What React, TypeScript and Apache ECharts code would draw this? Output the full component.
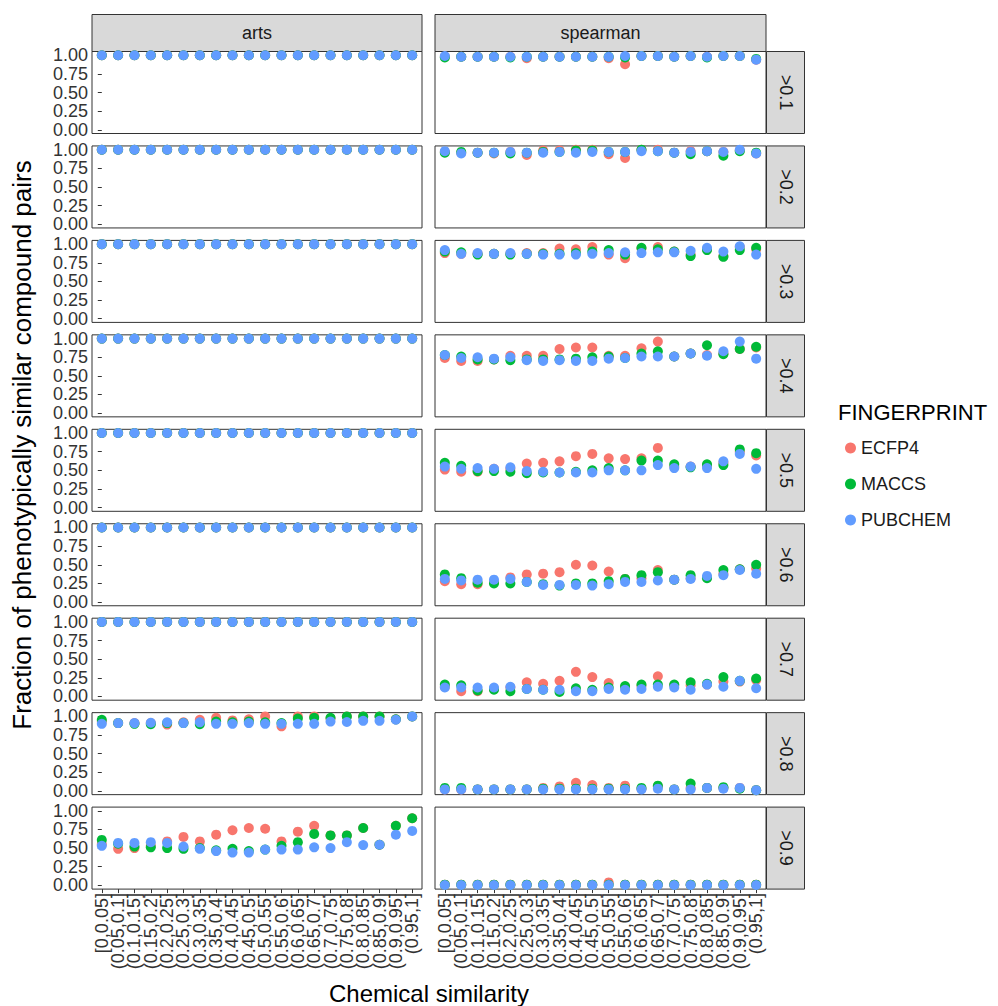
import React, { useEffect, useRef } from "react";
import * as echarts from "echarts";

const CATEGORIES = [
  "[0,0.05]", "(0.05,0.1]", "(0.1,0.15]", "(0.15,0.2]", "(0.2,0.25]",
  "(0.25,0.3]", "(0.3,0.35]", "(0.35,0.4]", "(0.4,0.45]", "(0.45,0.5]",
  "(0.5,0.55]", "(0.55,0.6]", "(0.6,0.65]", "(0.65,0.7]", "(0.7,0.75]",
  "(0.75,0.8]", "(0.8,0.85]", "(0.85,0.9]", "(0.9,0.95]", "(0.95,1]",
];
const METHODS = ["arts", "spearman"];
const THRESHOLDS = [">0.1", ">0.2", ">0.3", ">0.4", ">0.5", ">0.6", ">0.7", ">0.8", ">0.9"];
const FINGERPRINTS = ["ECFP4", "MACCS", "PUBCHEM"];
const FP_COLORS = ["#F8766D", "#00BA38", "#619CFF"];
const Y_TICKS = [0, 0.25, 0.5, 0.75, 1];

// arts, one row per threshold
const ARTS_ECFP4 = [
  [1, 1, 1, 1, 1, 1, 1, 1, 1, 1, 1, 1, 1, 1, 1, 1, 1, 1, 1, 1],
  [1, 1, 1, 1, 1, 1, 1, 1, 1, 1, 1, 1, 1, 1, 1, 1, 1, 1, 1, 1],
  [1, 1, 1, 1, 1, 1, 1, 1, 1, 1, 1, 1, 1, 1, 1, 1, 1, 1, 1, 1],
  [1, 1, 1, 1, 1, 1, 1, 1, 1, 1, 1, 1, 1, 1, 1, 1, 1, 1, 1, 1],
  [1, 1, 1, 1, 1, 1, 1, 1, 1, 1, 1, 1, 1, 1, 1, 1, 1, 1, 1, 1],
  [1, 1, 1, 1, 1, 1, 1, 1, 1, 1, 1, 1, 1, 1, 1, 1, 1, 1, 1, 1],
  [1, 1, 1, 1, 1, 1, 1, 1, 1, 1, 1, 1, 1, 1, 1, 1, 1, 1, 1, 1],
  [0.93, 0.91, 0.91, 0.91, 0.89, 0.92, 0.955, 0.98, 0.946, 0.96, 1.0, 0.866, 1.0, 1.0, 0.97, 1.0, 1.0, 1.0, 0.96, 1.0],
  [0.55, 0.49, 0.5, 0.53, 0.59, 0.65, 0.59, 0.68, 0.74, 0.77, 0.76, 0.59, 0.72, 0.8, 0.67, 0.67, 0.77, 0.545, 0.8, 0.9],
];
const ARTS_MACCS = [
  [1, 1, 1, 1, 1, 1, 1, 1, 1, 1, 1, 1, 1, 1, 1, 1, 1, 1, 1, 1],
  [1, 1, 1, 1, 1, 1, 1, 1, 1, 1, 1, 1, 1, 1, 1, 1, 1, 1, 1, 1],
  [1, 1, 1, 1, 1, 1, 1, 1, 1, 1, 1, 1, 1, 1, 1, 1, 1, 1, 1, 1],
  [1, 1, 1, 1, 1, 1, 1, 1, 1, 1, 1, 1, 1, 1, 1, 1, 1, 1, 1, 1],
  [1, 1, 1, 1, 1, 1, 1, 1, 1, 1, 1, 1, 1, 1, 1, 1, 1, 1, 1, 1],
  [1, 1, 1, 1, 1, 1, 1, 1, 1, 1, 1, 1, 1, 1, 1, 1, 1, 1, 1, 1],
  [1, 1, 1, 1, 1, 1, 1, 1, 1, 1, 1, 1, 1, 1, 1, 1, 1, 1, 1, 1],
  [0.955, 0.91, 0.9, 0.895, 0.91, 0.91, 0.895, 0.93, 0.92, 0.93, 0.92, 0.91, 0.97, 0.98, 0.98, 1.0, 1.0, 1.0, 0.96, 1.0],
  [0.61, 0.56, 0.52, 0.51, 0.5, 0.49, 0.5, 0.47, 0.49, 0.46, 0.48, 0.53, 0.58, 0.69, 0.67, 0.67, 0.77, 0.545, 0.8, 0.9],
];
const ARTS_PUBCHEM = [
  [1, 1, 1, 1, 1, 1, 1, 1, 1, 1, 1, 1, 1, 1, 1, 1, 1, 1, 1, 1],
  [1, 1, 1, 1, 1, 1, 1, 1, 1, 1, 1, 1, 1, 1, 1, 1, 1, 1, 1, 1],
  [1, 1, 1, 1, 1, 1, 1, 1, 1, 1, 1, 1, 1, 1, 1, 1, 1, 1, 1, 1],
  [1, 1, 1, 1, 1, 1, 1, 1, 1, 1, 1, 1, 1, 1, 1, 1, 1, 1, 1, 1],
  [1, 1, 1, 1, 1, 1, 1, 1, 1, 1, 1, 1, 1, 1, 1, 1, 1, 1, 1, 1],
  [1, 1, 1, 1, 1, 1, 1, 1, 1, 1, 1, 1, 1, 1, 1, 1, 1, 1, 1, 1],
  [1, 1, 1, 1, 1, 1, 1, 1, 1, 1, 1, 1, 1, 1, 1, 1, 1, 1, 1, 1],
  [0.9, 0.91, 0.91, 0.915, 0.92, 0.91, 0.92, 0.9, 0.9, 0.91, 0.9, 0.9, 0.9, 0.9, 0.93, 0.925, 0.94, 0.94, 0.955, 1.0],
  [0.53, 0.57, 0.57, 0.58, 0.57, 0.52, 0.49, 0.46, 0.44, 0.44, 0.48, 0.48, 0.48, 0.51, 0.5, 0.58, 0.54, 0.545, 0.68, 0.73],
];

// spearman, one row per threshold
const SPEARMAN_ECFP4 = [
  [0.98, 0.98, 0.98, 0.98, 0.98, 0.96, 0.98, 0.98, 0.98, 0.98, 0.96, 0.88, 0.99, 0.99, 0.98, 0.99, 0.98, 0.99, 0.99, 0.94],
  [0.97, 0.96, 0.96, 0.95, 0.97, 0.93, 0.99, 0.99, 1.0, 1.0, 0.94, 0.89, 1.0, 1.0, 0.96, 0.98, 0.98, 0.97, 0.99, 0.95],
  [0.88, 0.87, 0.87, 0.87, 0.87, 0.88, 0.88, 0.94, 0.93, 0.96, 0.86, 0.81, 0.94, 0.96, 0.9, 0.86, 0.93, 0.84, 0.96, 0.93],
  [0.74, 0.7, 0.7, 0.72, 0.77, 0.77, 0.77, 0.86, 0.88, 0.88, 0.77, 0.77, 0.87, 0.96, 0.76, 0.8, 0.78, 0.8, 0.86, 0.88],
  [0.51, 0.48, 0.48, 0.52, 0.52, 0.59, 0.6, 0.62, 0.69, 0.72, 0.66, 0.65, 0.66, 0.8, 0.55, 0.55, 0.56, 0.6, 0.75, 0.7],
  [0.28, 0.24, 0.24, 0.27, 0.33, 0.37, 0.38, 0.4, 0.5, 0.49, 0.41, 0.31, 0.32, 0.43, 0.3, 0.32, 0.33, 0.38, 0.44, 0.45],
  [0.13, 0.07, 0.07, 0.1, 0.12, 0.19, 0.17, 0.21, 0.33, 0.26, 0.18, 0.12, 0.14, 0.27, 0.15, 0.15, 0.16, 0.2, 0.2, 0.22],
  [0.02, 0.02, 0.02, 0.02, 0.02, 0.02, 0.04, 0.06, 0.11, 0.08, 0.04, 0.07, 0.03, 0.06, 0.02, 0.04, 0.04, 0.04, 0.04, 0.01],
  [0.01, 0.01, 0.01, 0.01, 0.01, 0.01, 0.01, 0.01, 0.01, 0.01, 0.04, 0.01, 0.01, 0.01, 0.01, 0.01, 0.01, 0.01, 0.01, 0.01],
];
const SPEARMAN_MACCS = [
  [0.97, 0.98, 0.98, 0.98, 0.97, 0.98, 0.98, 0.98, 0.98, 0.98, 0.98, 0.97, 0.99, 0.99, 0.98, 0.99, 0.97, 0.99, 0.99, 0.95],
  [0.96, 0.97, 0.96, 0.96, 0.95, 0.96, 0.97, 0.97, 0.99, 0.99, 0.97, 0.97, 1.0, 0.98, 0.96, 0.94, 0.98, 0.92, 0.98, 0.96],
  [0.9, 0.89, 0.86, 0.87, 0.86, 0.87, 0.87, 0.87, 0.88, 0.9, 0.92, 0.86, 0.95, 0.93, 0.9, 0.84, 0.92, 0.83, 0.92, 0.95],
  [0.78, 0.76, 0.72, 0.72, 0.71, 0.72, 0.72, 0.72, 0.73, 0.75, 0.76, 0.74, 0.8, 0.83, 0.76, 0.8, 0.91, 0.79, 0.86, 0.89],
  [0.6, 0.56, 0.49, 0.49, 0.48, 0.46, 0.47, 0.47, 0.48, 0.5, 0.53, 0.5, 0.63, 0.63, 0.58, 0.54, 0.58, 0.57, 0.78, 0.73],
  [0.37, 0.32, 0.26, 0.25, 0.25, 0.27, 0.24, 0.22, 0.25, 0.25, 0.28, 0.31, 0.36, 0.4, 0.3, 0.36, 0.32, 0.43, 0.44, 0.5],
  [0.16, 0.15, 0.08, 0.09, 0.07, 0.1, 0.09, 0.06, 0.11, 0.09, 0.12, 0.14, 0.16, 0.16, 0.16, 0.19, 0.17, 0.26, 0.21, 0.24],
  [0.04, 0.04, 0.02, 0.02, 0.02, 0.02, 0.03, 0.03, 0.03, 0.03, 0.03, 0.03, 0.04, 0.07, 0.02, 0.1, 0.04, 0.05, 0.03, 0.01],
  [0.01, 0.01, 0.01, 0.01, 0.01, 0.01, 0.01, 0.01, 0.01, 0.01, 0.01, 0.01, 0.01, 0.01, 0.01, 0.01, 0.01, 0.01, 0.01, 0.01],
];
const SPEARMAN_PUBCHEM = [
  [0.99, 0.98, 0.98, 0.98, 0.98, 0.98, 0.98, 0.98, 0.98, 0.98, 0.98, 0.99, 0.99, 0.99, 0.98, 0.99, 0.98, 0.99, 0.99, 0.94],
  [0.98, 0.95, 0.96, 0.96, 0.97, 0.96, 0.96, 0.97, 0.96, 0.97, 0.97, 0.97, 0.98, 0.98, 0.96, 0.97, 0.98, 0.97, 1.0, 0.95],
  [0.92, 0.87, 0.88, 0.87, 0.88, 0.87, 0.86, 0.86, 0.86, 0.87, 0.88, 0.89, 0.88, 0.89, 0.89, 0.91, 0.95, 0.9, 0.97, 0.86],
  [0.78, 0.74, 0.75, 0.73, 0.75, 0.71, 0.7, 0.71, 0.7, 0.7, 0.73, 0.74, 0.76, 0.76, 0.76, 0.8, 0.77, 0.83, 0.96, 0.73],
  [0.55, 0.52, 0.53, 0.52, 0.54, 0.49, 0.48, 0.47, 0.47, 0.47, 0.5, 0.5, 0.5, 0.57, 0.53, 0.55, 0.53, 0.62, 0.72, 0.52],
  [0.31, 0.29, 0.3, 0.3, 0.31, 0.27, 0.23, 0.23, 0.23, 0.22, 0.24, 0.27, 0.27, 0.29, 0.3, 0.31, 0.35, 0.36, 0.43, 0.38],
  [0.12, 0.12, 0.12, 0.12, 0.13, 0.1, 0.09, 0.09, 0.07, 0.07, 0.1, 0.09, 0.1, 0.13, 0.12, 0.09, 0.16, 0.13, 0.21, 0.11],
  [0.02, 0.02, 0.02, 0.02, 0.02, 0.02, 0.02, 0.02, 0.02, 0.02, 0.02, 0.02, 0.02, 0.03, 0.02, 0.02, 0.04, 0.03, 0.04, 0.01],
  [0.005, 0.005, 0.005, 0.005, 0.005, 0.005, 0.005, 0.005, 0.005, 0.005, 0.005, 0.005, 0.005, 0.005, 0.005, 0.005, 0.005, 0.005, 0.005, 0.005],
];

const FONT = "Liberation Sans, Arial, Helvetica, sans-serif";

function buildOption() {
  const byMethod = [
    [ARTS_ECFP4, ARTS_MACCS, ARTS_PUBCHEM],
    [SPEARMAN_ECFP4, SPEARMAN_MACCS, SPEARMAN_PUBCHEM],
  ];
  const colLeft = [92, 435];
  const colWidth = [330, 331];
  const rowTop = (r: number) => 51.5 + r * 94.45;
  const panelH = 82;
  const nRows = THRESHOLDS.length;
  const nCat = CATEGORIES.length;
  const span = nCat - 1 + 1.2; // discrete range with 0.6 expansion each side

  const grids: any[] = [];
  const xAxes: any[] = [];
  const yAxes: any[] = [];
  const series: any[] = [];
  const graphics: any[] = [];

  for (let r = 0; r < nRows; r++) {
    for (let c = 0; c < METHODS.length; c++) {
      const g = grids.length;
      grids.push({
        left: colLeft[c],
        top: rowTop(r),
        width: colWidth[c],
        height: panelH,
        show: true,
        borderColor: "#333333",
        borderWidth: 1,
        backgroundColor: "#FFFFFF",
        containLabel: false,
      });
      xAxes.push({
        type: "value",
        gridIndex: g,
        min: -0.6,
        max: nCat - 1 + 0.6,
        axisLine: { show: false },
        splitLine: { show: false },
        axisTick: { show: false },
        axisLabel: { show: false },
      });
      yAxes.push({
        type: "value",
        gridIndex: g,
        min: -0.05,
        max: 1.05,
        axisLine: { show: false },
        splitLine: { show: false },
        axisTick: {
          show: c === 0,
          customValues: Y_TICKS,
          length: 4,
          lineStyle: { color: "#333333", width: 1 },
        },
        axisLabel: {
          show: c === 0,
          customValues: Y_TICKS,
          margin: 4,
          fontSize: 18,
          fontFamily: FONT,
          color: "#333333",
          showMinLabel: true,
          showMaxLabel: true,
          hideOverlap: false,
          formatter: (v: number) => v.toFixed(2),
        },
      });
      FINGERPRINTS.forEach((fp, k) => {
        series.push({
          type: "scatter",
          name: fp,
          xAxisIndex: g,
          yAxisIndex: g,
          symbol: "circle",
          symbolSize: 10,
          itemStyle: { color: FP_COLORS[k], opacity: 1 },
          emphasis: { disabled: true },
          data: byMethod[c][k][r].map((v, i) => [i, v]),
        });
      });
    }
    // right strip
    graphics.push({
      type: "rect",
      shape: { x: 766.5, y: rowTop(r), width: 38, height: panelH },
      style: { fill: "#D9D9D9", stroke: "#333333", lineWidth: 1 },
    });
    graphics.push({
      type: "text",
      x: 786,
      y: rowTop(r) + panelH / 2,
      rotation: -Math.PI / 2,
      style: {
        text: THRESHOLDS[r],
        fontSize: 18,
        fontFamily: FONT,
        fill: "#1A1A1A",
        align: "center",
        verticalAlign: "middle",
      },
    });
  }

  // category label axes under the bottom row, aligned with the discrete positions
  METHODS.forEach((_, c) => {
    const unit = colWidth[c] / span;
    const g = grids.length;
    grids.push({
      left: colLeft[c] + 0.1 * unit,
      top: rowTop(nRows - 1),
      width: unit * nCat,
      height: panelH,
      show: false,
      containLabel: false,
    });
    xAxes.push({
      type: "category",
      gridIndex: g,
      data: CATEGORIES,
      boundaryGap: true,
      axisLine: { show: false },
      splitLine: { show: false },
      axisTick: {
        show: true,
        alignWithLabel: true,
        interval: 0,
        length: 4,
        lineStyle: { color: "#333333", width: 1 },
      },
      axisLabel: {
        interval: 0,
        rotate: 90,
        margin: 4,
        fontSize: 18,
        fontFamily: FONT,
        color: "#333333",
      },
    });
    yAxes.push({ type: "value", gridIndex: g, show: false, min: 0, max: 1 });
  });

  // top strips
  METHODS.forEach((m, c) => {
    graphics.push({
      type: "rect",
      shape: { x: colLeft[c], y: 14.5, width: colWidth[c], height: 37 },
      style: { fill: "#D9D9D9", stroke: "#333333", lineWidth: 1 },
    });
    graphics.push({
      type: "text",
      x: colLeft[c] + colWidth[c] / 2,
      y: 33,
      style: {
        text: m,
        fontSize: 18,
        fontFamily: FONT,
        fill: "#1A1A1A",
        align: "center",
        verticalAlign: "middle",
      },
    });
  });

  // axis titles
  graphics.push({
    type: "text",
    x: 429,
    y: 993,
    style: {
      text: "Chemical similarity",
      fontSize: 24,
      fontFamily: FONT,
      fill: "#000000",
      align: "center",
      verticalAlign: "middle",
    },
  });
  graphics.push({
    type: "text",
    x: 22,
    y: 445,
    rotation: Math.PI / 2,
    style: {
      text: "Fraction of phenotypically similar compound pairs",
      fontSize: 26,
      fontFamily: FONT,
      fill: "#000000",
      align: "center",
      verticalAlign: "middle",
    },
  });
  // legend title
  graphics.push({
    type: "text",
    x: 838,
    y: 412,
    style: {
      text: "FINGERPRINT",
      fontSize: 22,
      fontFamily: FONT,
      fill: "#000000",
      align: "left",
      verticalAlign: "middle",
    },
  });

  return {
    animation: false,
    backgroundColor: "#FFFFFF",
    grid: grids,
    xAxis: xAxes,
    yAxis: yAxes,
    series,
    legend: {
      data: FINGERPRINTS,
      orient: "vertical",
      left: 840,
      top: 434,
      itemWidth: 11,
      itemHeight: 11,
      itemGap: 18,
      icon: "circle",
      selectedMode: false,
      textStyle: { fontSize: 18, fontFamily: FONT, color: "#1A1A1A" },
    },
    graphic: graphics,
  };
}

export default function App() {
  const ref = useRef<HTMLDivElement>(null);
  useEffect(() => {
    if (!ref.current) return;
    const chart = echarts.init(ref.current, null, { renderer: "svg" });
    chart.setOption(buildOption() as any);
    return () => chart.dispose();
  }, []);
  return (
    <div
      ref={ref}
      style={{ position: "absolute", left: 0, top: 0, width: 998, height: 1006 }}
    />
  );
}
